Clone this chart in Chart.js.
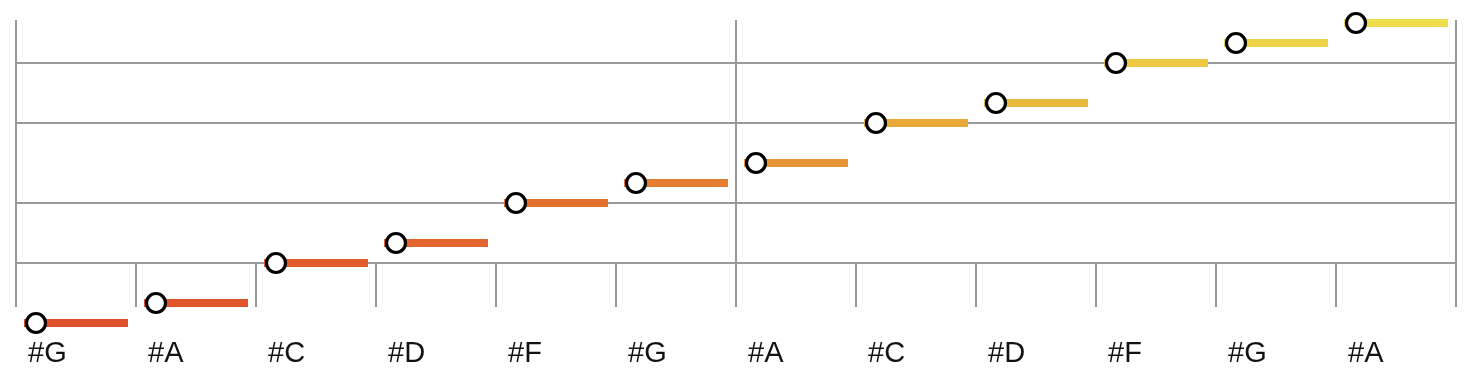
<!DOCTYPE html>
<html>
<head>
<meta charset="utf-8">
<script src="https://cdn.jsdelivr.net/npm/chart.js@4"></script>
<style>
  html, body { margin: 0; padding: 0; background: #fff; }
  #wrap { width: 1480px; height: 380px; }
</style>
</head>
<body>
<div id="wrap"><canvas id="noteChart" width="1480" height="380"></canvas></div>
<script>
// label di bawah tiap kolom
var noteLabels = ["#G", "#A", "#C", "#D", "#F", "#G", "#A", "#C", "#D", "#F", "#G", "#A"];
// tinggi nada (langkah diatonik, G terendah = 0)
var noteSteps = [0, 1, 3, 4, 6, 7, 8, 10, 11, 13, 14, 15];
// garis horizontal (C dan F)
var yGridValues = [3, 6, 10, 13];
// garis vertikal penuh
var xMajorLines = [0, 6, 12];

var noteColors = [
    "#E0502A", "#E0552A", "#E25D2C", "#E2662E", "#E47030", "#E47C32",
    "#E69536", "#E8A83A", "#E9B93E", "#EBC742", "#ECD446", "#EEDE4A"
];

var gridGrey = "#98989d";

// segmen warna (garis tebal) per not
var barSets = noteSteps.map(function (v, i) {
    return {
        type: "line",
        data: [{ x: i + 8 / 120, y: v }, { x: i + 112 / 120, y: v }],
        borderColor: noteColors[i],
        borderWidth: 8,
        borderCapStyle: "butt",
        pointRadius: 0,
        clip: false,
        order: 1,
    };
});

// lingkaran putih di awal tiap not
var circleSet = {
    type: "scatter",
    data: noteSteps.map(function (v, i) {
        return { x: i + 20 / 120, y: v };
    }),
    pointRadius: 9.5,
    pointBorderWidth: 3.2,
    pointBackgroundColor: "#ffffff",
    pointBorderColor: "#000000",
    clip: false,
    order: 0,
};

// titik di bawah area grafik tetap digambar (G dan A terendah)
var savedBottom = null;
var openArea = {
    id: "openArea",
    beforeDatasetsDraw: function (chart) {
        savedBottom = chart.chartArea.bottom;
        chart.chartArea.bottom = chart.height;
    },
    afterDatasetsDraw: function (chart) {
        chart.chartArea.bottom = savedBottom;
    },
};

var ctx = document.getElementById("noteChart").getContext("2d");
var myChart = new Chart(ctx, {
    type: "line",
    data: {
        datasets: [circleSet].concat(barSets),
    },
    plugins: [openArea],
    options: {
        responsive: false,
        animation: false,
        layout: {
            padding: { left: 16, right: 24, top: 20, bottom: 0 },
        },
        plugins: {
            legend: { display: false },
            tooltip: { enabled: false },
        },
        scales: {
            x: {
                type: "linear",
                min: 0,
                max: 12,
                border: { display: false },
                grid: {
                    color: function (c) {
                        return xMajorLines.indexOf(c.tick.value) >= 0 ? gridGrey : "rgba(0,0,0,0)";
                    },
                    tickColor: gridGrey,
                    lineWidth: 2,
                    tickLength: 44,
                },
                ticks: {
                    stepSize: 1,
                    autoSkip: false,
                    maxRotation: 0,
                    align: "start",
                    labelOffset: 12,
                    padding: 30,
                    color: "#111",
                    font: { family: "'Liberation Sans', Arial, sans-serif", size: 29 },
                    callback: function (value, index) {
                        return index < noteLabels.length ? noteLabels[index] : "";
                    },
                },
                afterFit: function (scale) {
                    scale.height = 117;
                    scale.paddingLeft = 0;
                    scale.paddingRight = 0;
                },
            },
            y: {
                type: "linear",
                min: 3,
                max: 15.15,
                border: { display: false },
                grid: {
                    color: gridGrey,
                    lineWidth: 2,
                    drawTicks: false,
                },
                ticks: { display: false },
                afterBuildTicks: function (scale) {
                    scale.ticks = yGridValues.map(function (v) {
                        return { value: v };
                    });
                },
                afterFit: function (scale) {
                    scale.width = 0;
                    scale.paddingTop = 0;
                    scale.paddingBottom = 0;
                },
            },
        },
    },
});
</script>
</body>
</html>
